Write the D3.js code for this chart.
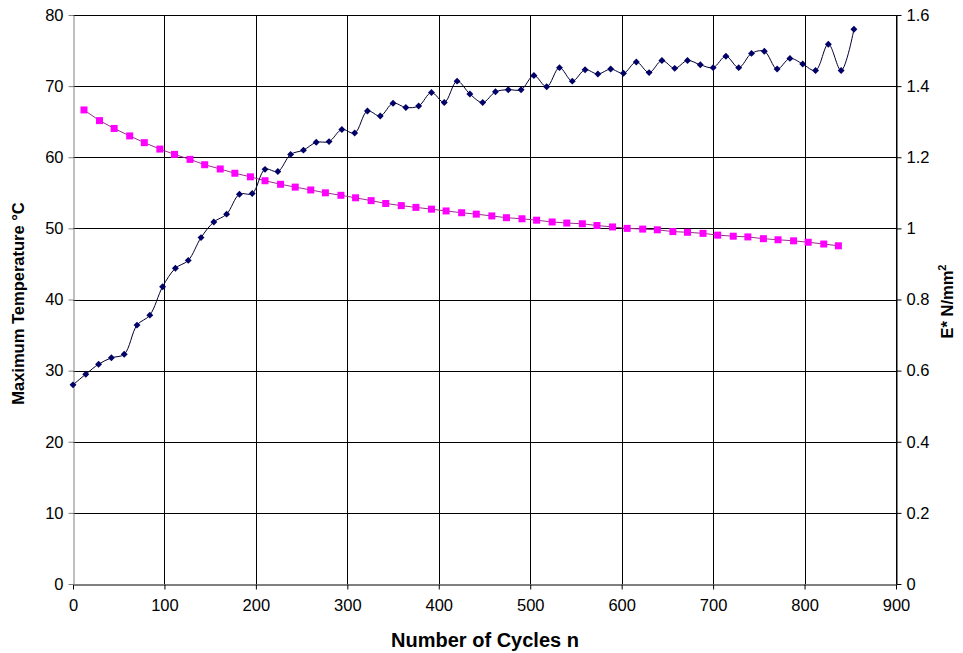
<!DOCTYPE html>
<html>
<head>
<meta charset="utf-8">
<script src="https://cdn.jsdelivr.net/npm/d3@7"></script>
<style>
  html, body { margin: 0; padding: 0; background: #fff; }
  svg { display: block; font-family: Arial, "Liberation Sans", sans-serif; }
</style>
</head>
<body>
<svg id="chart" width="963" height="653"></svg>
<script>
// Maximum temperature (°C) against number of cycles
const tempCycles = [0, 14, 28, 42, 56, 70, 84, 98, 112, 126, 140, 154, 168, 182, 196, 210, 224, 238, 252, 266,
  280, 294, 308, 322, 336, 350, 364, 378, 392, 406, 420, 434, 448, 462, 476, 490, 504, 518, 532, 546,
  560, 574, 588, 602, 616, 630, 644, 658, 672, 686, 700, 714, 728, 742, 756, 770, 784, 798, 812, 826,
  840, 854];
const tempValues = [28.0, 29.5, 30.9, 31.8, 32.3, 36.4, 37.8, 41.8, 44.4, 45.5, 48.7, 50.9, 52.0, 54.8, 54.9, 58.3, 58.0, 60.4, 61.0, 62.1,
  62.2, 63.9, 63.4, 66.5, 65.8, 67.6, 67.0, 67.2, 69.1, 67.7, 70.7, 68.9, 67.7, 69.2, 69.5, 69.5, 71.5, 69.9, 72.6, 70.7,
  72.3, 71.7, 72.4, 71.8, 73.4, 71.9, 73.6, 72.5, 73.6, 73.0, 72.6, 74.2, 72.6, 74.6, 74.9, 72.4, 73.9, 73.1, 72.2, 75.9,
  72.2, 78.0];

// Stiffness modulus E* (N/mm²) against number of cycles
const modCycles = [12, 29, 45, 62, 78, 95, 111, 128, 144, 161, 177, 194, 210, 227, 243, 260, 276, 293, 309, 326,
  342, 359, 375, 392, 408, 425, 441, 458, 474, 491, 507, 524, 540, 557, 573, 590, 606, 623, 639, 656,
  672, 689, 705, 722, 738, 755, 771, 788, 804, 821, 837];
const modValues = [1.333, 1.303, 1.281, 1.260, 1.241, 1.223, 1.208, 1.194, 1.179, 1.167, 1.155, 1.145, 1.134, 1.124, 1.116, 1.108, 1.100, 1.093, 1.086, 1.078,
  1.070, 1.064, 1.059, 1.054, 1.049, 1.044, 1.040, 1.035, 1.030, 1.027, 1.023, 1.018, 1.015, 1.013, 1.008, 1.004, 1.000, 0.998, 0.996, 0.991,
  0.989, 0.986, 0.981, 0.978, 0.976, 0.971, 0.968, 0.965, 0.961, 0.956, 0.951];

const xTicks = [0, 100, 200, 300, 400, 500, 600, 700, 800, 900];
const leftTicks = [0, 10, 20, 30, 40, 50, 60, 70, 80];
const rightTicks = [0, 0.2, 0.4, 0.6, 0.8, 1, 1.2, 1.4, 1.6];

const svg = d3.select("#chart");
const L = 73, R = 896, T = 15, B = 584;

const x = d3.scaleLinear().domain([0, 900]).range([L, R]);
const yL = d3.scaleLinear().domain([0, 80]).range([B, T]);
const yR = d3.scaleLinear().domain([0, 1.6]).range([B, T]);

// gridlines
const grid = svg.append("g");
grid.selectAll("line.h").data(leftTicks.filter(d => d > 0)).join("line")
  .attr("x1", L).attr("x2", R)
  .attr("y1", d => Math.round(yL(d)) + 0.5).attr("y2", d => Math.round(yL(d)) + 0.5)
  .attr("stroke", "#000").attr("stroke-width", 1);
grid.selectAll("line.v").data(xTicks.filter(d => d > 0)).join("line")
  .attr("y1", T).attr("y2", B)
  .attr("x1", d => Math.round(x(d)) + 0.5).attr("x2", d => Math.round(x(d)) + 0.5)
  .attr("stroke", "#000").attr("stroke-width", 1);

// axes
const fmt = d => String(d);
const xAxis = svg.append("g").attr("transform", `translate(0,${B + 0.5})`)
  .call(d3.axisBottom(x).tickValues(xTicks).tickSize(5).tickSizeOuter(0).tickFormat(fmt));
const leftAxis = svg.append("g").attr("transform", `translate(${L + 0.5},0)`)
  .call(d3.axisLeft(yL).tickValues(leftTicks).tickSize(5).tickSizeOuter(0).tickFormat(fmt));
const rightAxis = svg.append("g").attr("transform", `translate(${R + 0.5},0)`)
  .call(d3.axisRight(yR).tickValues(rightTicks).tickSize(5).tickSizeOuter(0).tickFormat(fmt));

[xAxis, leftAxis, rightAxis].forEach(a => {
  a.selectAll("text").attr("font-size", 16.5).attr("fill", "#000")
    .attr("font-family", "Arial, 'Liberation Sans', sans-serif");
  a.selectAll("line").attr("stroke", "#000");
  a.select(".domain").attr("stroke", "#000");
});
leftAxis.select(".domain").attr("stroke", "#808080");
leftAxis.selectAll("line").attr("stroke", "#808080");
xAxis.selectAll("text").attr("dy", "1.0em").attr("y", 10);
leftAxis.selectAll("text").attr("x", -10);
rightAxis.selectAll("text").attr("x", 10);

// series
const tempData = tempCycles.map((c, i) => [c, tempValues[i]]);
const modData = modCycles.map((c, i) => [c, modValues[i]]);

svg.append("path").datum(modData)
  .attr("fill", "none").attr("stroke", "#9a2d8c").attr("stroke-width", 1)
  .attr("d", d3.line().x(d => x(d[0])).y(d => yR(d[1])));
svg.append("g").selectAll("rect").data(modData).join("rect")
  .attr("x", d => x(d[0]) - 3.5).attr("y", d => yR(d[1]) - 3.5)
  .attr("width", 7).attr("height", 7).attr("fill", "#ff00ff");

svg.append("path").datum(tempData)
  .attr("fill", "none").attr("stroke", "#000033").attr("stroke-width", 1)
  .attr("d", d3.line().curve(d3.curveCatmullRom.alpha(0.5)).x(d => x(d[0])).y(d => yL(d[1])));
const diamond = d3.symbol().type(d3.symbolSquare).size(24);
svg.append("g").selectAll("path").data(tempData).join("path")
  .attr("d", diamond)
  .attr("transform", d => `translate(${x(d[0])},${yL(d[1])}) rotate(45)`)
  .attr("fill", "#000066");

// axis titles
svg.append("text").attr("x", 485).attr("y", 647)
  .attr("text-anchor", "middle").attr("font-size", 20).attr("font-weight", "bold")
  .text("Number of Cycles n");
svg.append("text").attr("transform", `translate(24,${(T + B) / 2 + 4}) rotate(-90)`)
  .attr("text-anchor", "middle").attr("font-size", 16.5).attr("font-weight", "bold")
  .text("Maximum Temperature °C");
const rt = svg.append("text").attr("transform", `translate(953,${(T + B) / 2 + 2}) rotate(-90)`)
  .attr("text-anchor", "middle").attr("font-size", 16.5).attr("font-weight", "bold");
rt.append("tspan").text("E* N/mm");
rt.append("tspan").attr("dy", -7).attr("font-size", 11).text("2");
</script>
</body>
</html>
